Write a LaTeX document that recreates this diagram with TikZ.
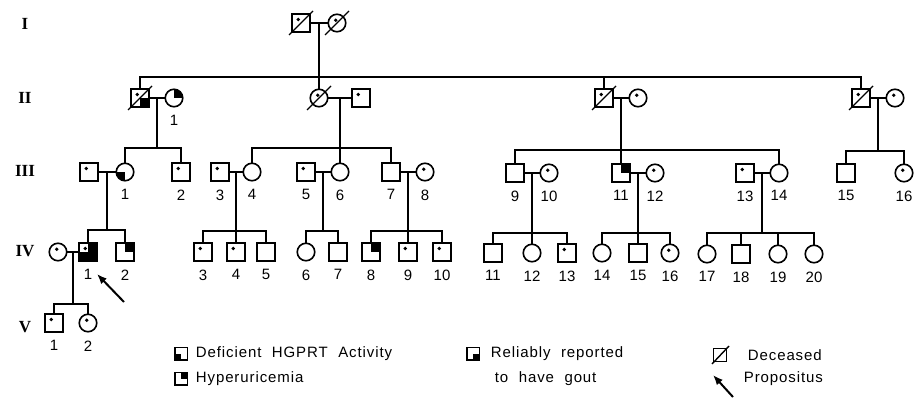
\documentclass[tikz,border=0pt]{standalone}
\usepackage{fontspec}
\setmainfont{Liberation Sans}
\newfontfamily\legfont{Liberation Sans}[LetterSpace=6]
\newfontfamily\genfont{Liberation Serif}
\usetikzlibrary{arrows.meta,calc}
\newcommand\pedsib[3]{\draw (#2.north) -- (#2.north |- #1) -- (#3.north |- #1) -- (#3.north);}
\newcommand\peddrop[2]{\draw (#2.north) -- (#2.north |- #1);}
\newcommand\pedmar[3]{\draw (#1) -- (#2); \coordinate (#3) at ($(#1)!0.5!(#2)$);}
\newcommand\wsp{\hspace{0.7em}}
\begin{document}
\begin{tikzpicture}[x=1pt,y=-1pt,line width=1.8pt,
  sym/.style={draw,line width=1.6pt,minimum size=17.5pt,inner sep=0pt,outer sep=0pt},
  male/.style={sym,rectangle},
  fem/.style={sym,circle},
  lsym/.style={draw,line width=1.5pt,rectangle,minimum size=12.5pt,inner sep=0pt},
  q/.style={path picture={\foreach \c in {#1}{\fill (path picture bounding box.center) rectangle (path picture bounding box.\c);}}},
  num/.style={font=\fontsize{15}{15}\selectfont,inner sep=0pt},
  lbl/.style={label={[num,label distance=8pt]below:#1}},
  gen/.style={font=\genfont\bfseries\fontsize{17}{17}\selectfont,inner sep=0pt},
  leg/.style={font=\legfont\fontsize{15}{15}\selectfont,anchor=west,inner sep=0pt},
  arr/.style={line width=2pt,-{Latex[length=10pt,width=8pt]}},
]
\fill[white] (0,0) rectangle (914,398);
\useasboundingbox (0,0) rectangle (914,398);

% generation labels
\node[gen] (gI) at (25,24) {I};
\node[gen] (gII) at (25,98) {II};
\node[gen] (gIII) at (25,171) {III};
\node[gen] (gIV) at (25,251) {IV};
\node[gen] (gV) at (25,327) {V};

% generation I
\node[male] (I1) at (301,23) {};
\node[fem] (I2) at (337,23) {};

% generation II
\node[male,q={south east}] (II1) at (140,98) {};
\node[fem,q={north east},lbl=1] (II2) at (174,98) {};
\node[fem] (II3) at (319,98) {};
\node[male] (II4) at (361,98) {};
\node[male] (II5) at (604,98) {};
\node[fem] (II6) at (638,98) {};
\node[male] (II7) at (861,98) {};
\node[fem] (II8) at (895,98) {};

% generation III
\node[male] (IIIs) at (89,172) {};
\node[fem,q={south west},lbl=1] (III1) at (125,172) {};
\node[male,lbl=2] (III2) at (181,172) {};
\node[male,lbl=3] (III3) at (220,172) {};
\node[fem,lbl=4] (III4) at (252,172) {};
\node[male,lbl=5] (III5) at (306,172) {};
\node[fem,lbl=6] (III6) at (340,172) {};
\node[male,lbl=7] (III7) at (391,172) {};
\node[fem,lbl=8] (III8) at (425,172) {};
\node[male,lbl=9] (III9) at (515,173) {};
\node[fem,lbl=10] (III10) at (549,173) {};
\node[male,q={north east},lbl=11] (III11) at (621,173) {};
\node[fem,lbl=12] (III12) at (655,173) {};
\node[male,lbl=13] (III13) at (745,173) {};
\node[fem,lbl=14] (III14) at (779,173) {};
\node[male,lbl=15] (III15) at (846,173) {};
\node[fem,lbl=16] (III16) at (904,173) {};

% generation IV
\node[fem] (IVs) at (58,252) {};
\node[male,q={south west,north east,south east},lbl=1] (IV1) at (88,252) {};
\node[male,q={north east},lbl=2] (IV2) at (125,252) {};
\node[male,lbl=3] (IV3) at (203,252) {};
\node[male,lbl=4] (IV4) at (236,252) {};
\node[male,lbl=5] (IV5) at (266,252) {};
\node[fem,lbl=6] (IV6) at (306,252) {};
\node[male,lbl=7] (IV7) at (338,252) {};
\node[male,q={north east},lbl=8] (IV8) at (371,252) {};
\node[male,lbl=9] (IV9) at (408,252) {};
\node[male,lbl=10] (IV10) at (442,252) {};
\node[male,lbl=11] (IV11) at (493,253) {};
\node[fem,lbl=12] (IV12) at (532,253) {};
\node[male,lbl=13] (IV13) at (567,253) {};
\node[fem,lbl=14] (IV14) at (602,253) {};
\node[male,lbl=15] (IV15) at (638,253) {};
\node[fem,lbl=16] (IV16) at (670,253) {};
\node[fem,lbl=17] (IV17) at (707,254) {};
\node[male,lbl=18] (IV18) at (741,254) {};
\node[fem,lbl=19] (IV19) at (778,254) {};
\node[fem,lbl=20] (IV20) at (814,254) {};

% generation V
\node[male,lbl=1] (V1) at (54,323) {};
\node[fem,lbl=2] (V2) at (88,323) {};

% sibship levels
\coordinate (yII) at (0,77);
\coordinate (yIIIa) at (0,148);
\coordinate (yIIIb) at (0,148);
\coordinate (yIIIc) at (0,150);
\coordinate (yIIId) at (0,151);
\coordinate (yIVa) at (0,230);
\coordinate (yIVb) at (0,231);
\coordinate (yIVc) at (0,233);
\coordinate (yV) at (0,304);

% generation I family
\pedmar{I1}{I2}{mI}
\draw (mI) -- (II3.north);
\pedsib{yII}{II1}{II7}
\peddrop{yII}{II5}

% generation II families
\pedmar{II1}{II2}{mIIa}
\draw (mIIa) -- (mIIa |- yIIIa);
\pedsib{yIIIa}{III1}{III2}

\pedmar{II3}{II4}{mIIb}
\draw (mIIb) -- (mIIb |- yIIIb);
\pedsib{yIIIb}{III4}{III7}
\peddrop{yIIIb}{III6}

\pedmar{II5}{II6}{mIIc}
\draw (mIIc) -- (III11.north);
\pedsib{yIIIc}{III9}{III14}
\peddrop{yIIIc}{III11}

\pedmar{II7}{II8}{mIId}
\draw (mIId) -- (mIId |- yIIId);
\pedsib{yIIId}{III15}{III16}

% generation III families
\pedmar{IIIs}{III1}{mIIIa}
\draw (mIIIa) -- (mIIIa |- yIVa);
\pedsib{yIVa}{IV1}{IV2}

\pedmar{III3}{III4}{mIIIb}
\draw (mIIIb) -- (mIIIb |- yIVb);
\pedsib{yIVb}{IV3}{IV5}
\peddrop{yIVb}{IV4}

\pedmar{III5}{III6}{mIIIc}
\draw (mIIIc) -- (mIIIc |- yIVb);
\pedsib{yIVb}{IV6}{IV7}

\pedmar{III7}{III8}{mIIId}
\draw (mIIId) -- (mIIId |- yIVb);
\pedsib{yIVb}{IV8}{IV10}
\peddrop{yIVb}{IV9}

\pedmar{III9}{III10}{mIIIe}
\draw (mIIIe) -- (mIIIe |- yIVc);
\pedsib{yIVc}{IV11}{IV13}
\peddrop{yIVc}{IV12}

\pedmar{III11}{III12}{mIIIf}
\draw (mIIIf) -- (mIIIf |- yIVc);
\pedsib{yIVc}{IV14}{IV16}
\peddrop{yIVc}{IV15}

\pedmar{III13}{III14}{mIIIg}
\draw (mIIIg) -- (mIIIg |- yIVc);
\pedsib{yIVc}{IV17}{IV20}
\peddrop{yIVc}{IV18}
\peddrop{yIVc}{IV19}

% generation IV family
\pedmar{IVs}{IV1}{mIVa}
\draw (mIVa) -- (mIVa |- yV);
\pedsib{yV}{V1}{V2}

% dots (examined)
\foreach \n in {I1,II1,II4,II5,II7,IIIs,III2,III3,III5,III13,IV1,IV3,IV4,IV9,IV10,IV13,V1}
  \fill ([shift={(-2.8,-3.5)}]\n.center) circle[radius=1.9pt];
\foreach \n in {I2,II3,II6,II8,III8,III10,III12,III16,IVs,IV16,V2}
  \fill ([shift={(-1.3,-2.7)}]\n.center) circle[radius=1.9pt];

% deceased
\foreach \n in {I1,I2,II1,II3,II5,II7}
  \draw[line width=1.4pt] (\n.center) ++(-12,12) -- ++(24,-24);

% propositus arrow
\coordinate (pa) at (124,302);
\coordinate (pb) at (97,274);
\draw[arr] (pa) -- (pb);

% legend
\node[lsym,q={south west}] (L1) at (181,354) {};
\node[leg] (T1) at (195,354) {Deficient\wsp HGPRT\wsp Activity};
\node[lsym,q={north east}] (L2) at (181,379) {};
\node[leg] (T2) at (195,379) {Hyperuricemia};
\node[lsym,q={south east}] (L3) at (473,354) {};
\node[leg] (T3) at (490,354) {Reliably\wsp reported};
\node[leg] (T3b) at (494,379) {to\wsp have\wsp gout};
\node[lsym,minimum size=13pt] (L4) at (720,355) {};
\draw[line width=1.4pt] (L4.center) ++(-8,9) -- ++(17,-18);
\node[leg] (T4) at (747,355) {Deceased};
\coordinate (la) at (733,397);
\coordinate (lb) at (713,375);
\draw[arr] (la) -- (lb);
\node[leg] (T5) at (743,379) {Propositus};
\end{tikzpicture}
\end{document}
